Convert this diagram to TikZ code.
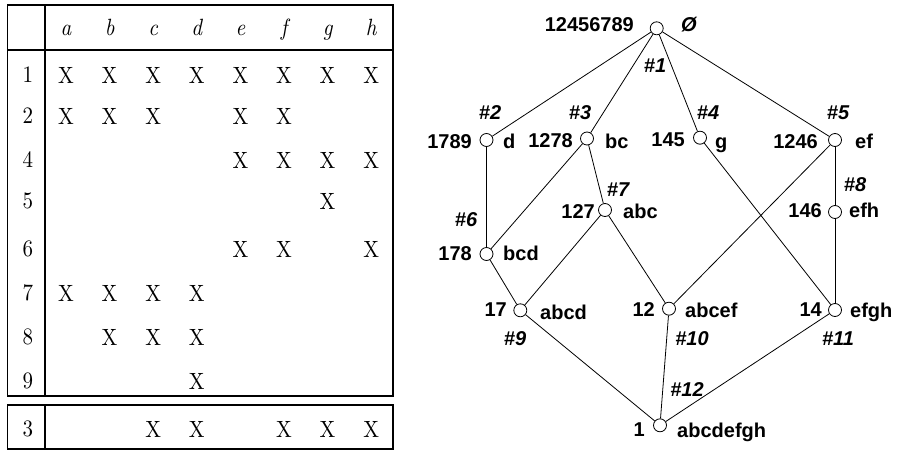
\documentclass[tikz,border=0pt]{standalone}
\usepackage{fontspec}
% design-size 10 faces, scaled up for the table
\setmainfont{lmroman10-regular}[Extension=.otf, ItalicFont=lmroman10-italic]
\newfontfamily\lab{Liberation Sans}
% table entries are set slightly taller than wide
\newcommand\tall[1]{\scalebox{1}[1.12]{#1}}
\begin{document}
\begin{tikzpicture}[x=1pt,y=-1pt,
  tabtext/.style={inner sep=0pt, font=\fontsize{21}{25}\selectfont},
  tabline/.style={line width=1.1pt},
  vtx/.style={circle, draw, fill=white, minimum size=13pt, inner sep=0pt, line width=0.8pt},
  edge/.style={line width=0.8pt},
  ext/.style={inner sep=0pt, anchor=base east, font=\lab\bfseries\fontsize{20}{24}\selectfont},
  int/.style={inner sep=0pt, anchor=base west, font=\lab\bfseries\fontsize{20}{24}\selectfont},
  num/.style={inner sep=0pt, anchor=base, font=\lab\bfseries\itshape\fontsize{20}{24}\selectfont}]
\useasboundingbox (0,0) rectangle (897,450);

% ---- cross table ----
\draw[tabline] (7.5,5) rectangle (393,396);
\draw[tabline] (7.5,405) rectangle (393,449);
\draw[tabline] (45,5) -- (45,396);
\draw[tabline] (45,405) -- (45,449);
\draw[tabline] (7.5,50) -- (393,50);

\foreach \c/\m in {1/a,2/b,3/c,4/d,5/e,6/f,7/g,8/h}
  \node[tabtext, anchor=base] (h\m) at ({22.4+43.6*\c},35) {\tall{\itshape\m}};

\foreach \r/\ry/\cols in {1/75/{1,2,3,4,5,6,7,8}, 2/116/{1,2,3,5,6}, 4/160/{5,6,7,8},
    5/201/{7}, 6/249/{5,6,8}, 7/293/{1,2,3,4}, 8/337/{2,3,4}, 9/381/{4},
    3/429/{3,4,6,7,8}} {
  \node[tabtext] (r\r) at (28,\ry) {\tall{\r}};
  \foreach \c in \cols
    \node[tabtext] (x\r-\c) at ({22.4+43.6*\c},\ry) {\tall{X}};
}

% ---- concept lattice ----
\node[vtx] (v0)    at (656.7,28.3) {};
\node[vtx] (v1789) at (486.5,140) {};
\node[vtx] (v1278) at (587,138.5) {};
\node[vtx] (v145)  at (700,137.7) {};
\node[vtx] (v1246) at (835,140) {};
\node[vtx] (v127)  at (605,210) {};
\node[vtx] (v146)  at (835,212) {};
\node[vtx] (v178)  at (486.5,254) {};
\node[vtx] (v17)   at (520.3,310.3) {};
\node[vtx] (v12)   at (669,308.7) {};
\node[vtx] (v14)   at (835,310) {};
\node[vtx] (v1)    at (660,425.3) {};

\draw[edge] (v0) -- (v1789);
\draw[edge] (v0) -- (v1278);
\draw[edge] (v0) -- (v145);
\draw[edge] (v0) -- (v1246);
\draw[edge] (v1789) -- (v178);
\draw[edge] (v1278) -- (v178);
\draw[edge] (v1278) -- (v127);
\draw[edge] (v145) -- (v14);
\draw[edge] (v1246) -- (v12);
\draw[edge] (v1246) -- (v146);
\draw[edge] (v146) -- (v14);
\draw[edge] (v127) -- (v17);
\draw[edge] (v127) -- (v12);
\draw[edge] (v178) -- (v17);
\draw[edge] (v17) -- (v1);
\draw[edge] (v12) -- (v1);
\draw[edge] (v14) -- (v1);

% extents
\node[ext] (e0)    at (634,31.5) {12456789};
\node[ext] (e1789) at (472,148) {1789};
\node[ext] (e1278) at (573,147) {1278};
\node[ext] (e145)  at (685,146) {145};
\node[ext] (e1246) at (818,148) {1246};
\node[ext] (e127)  at (595,218) {127};
\node[ext] (e146)  at (822,217) {146};
\node[ext] (e178)  at (472,260) {178};
\node[ext] (e17)   at (507,316) {17};
\node[ext] (e12)   at (655,316) {12};
\node[ext] (e14)   at (822,316) {14};
\node[ext] (e1)    at (645,436) {1};

% intents
\node[int, font=\lab\bfseries\itshape\fontsize{20}{24}\selectfont] (i0) at (681,31.5) {Ø};
\node[int] (i1789) at (503,148) {d};
\node[int] (i1278) at (605,148) {bc};
\node[int] (i145)  at (715,148) {g};
\node[int] (i1246) at (855,148) {ef};
\node[int] (i127)  at (623,218) {abc};
\node[int] (i146)  at (849,217) {efh};
\node[int] (i178)  at (503,260) {bcd};
\node[int] (i17)   at (540,319) {abcd};
\node[int] (i12)   at (685,317) {abcef};
\node[int] (i14)   at (850,317) {efgh};
\node[int] (i1)    at (677,437) {abcdefgh};

% concept numbers
\node[num] (n1)  at (655,72) {\#1};
\node[num] (n2)  at (490,119) {\#2};
\node[num] (n3)  at (580,119) {\#3};
\node[num] (n4)  at (708,119) {\#4};
\node[num] (n5)  at (838,119) {\#5};
\node[num] (n6)  at (466,226) {\#6};
\node[num] (n7)  at (618,196) {\#7};
\node[num] (n8)  at (855,191) {\#8};
\node[num] (n9)  at (515,345) {\#9};
\node[num] (n10) at (692,345) {\#10};
\node[num] (n11) at (838,345) {\#11};
\node[num] (n12) at (687,396) {\#12};
\end{tikzpicture}
\end{document}
